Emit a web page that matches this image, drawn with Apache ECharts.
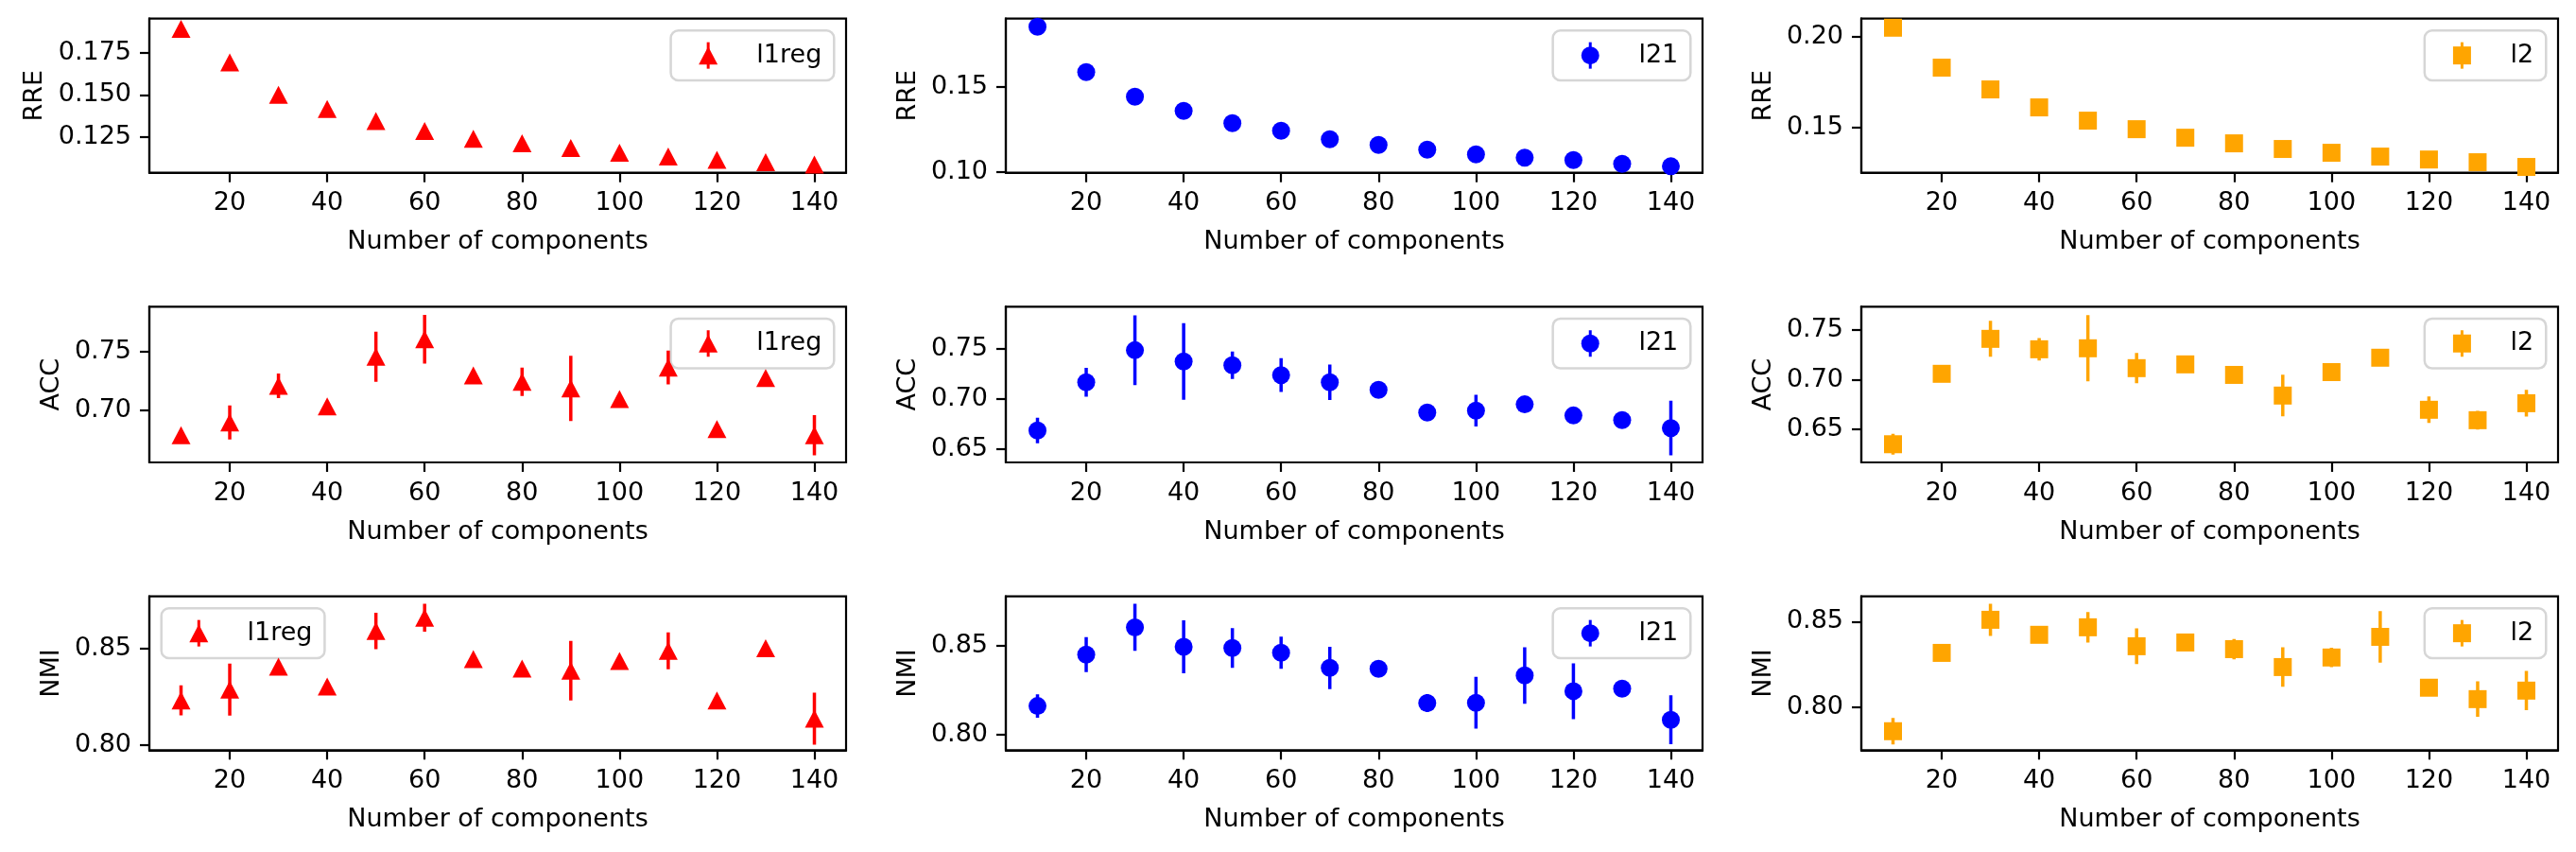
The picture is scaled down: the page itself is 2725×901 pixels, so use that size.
<!DOCTYPE html>
<html>
<head>
<meta charset="utf-8">
<script src="https://cdn.jsdelivr.net/npm/echarts@6/dist/echarts.min.js"></script>
<style>
html, body { margin: 0; padding: 0; background: #ffffff; }
#chart { width: 2725px; height: 901px; }
</style>
</head>
<body>
<div id="chart"></div>
<script>
// ---------------- data ----------------
const components = [10, 20, 30, 40, 50, 60, 70, 80, 90, 100, 110, 120, 130, 140];
const xTicks = [20, 40, 60, 80, 100, 120, 140];

const rreL1reg    = [0.1890, 0.1692, 0.1500, 0.1416, 0.1345, 0.1287, 0.1240, 0.1213, 0.1185, 0.1157, 0.1135, 0.1116, 0.1101, 0.1088];
const rreL1regErr = [0.0008, 0.0008, 0.0008, 0.0008, 0.0008, 0.0008, 0.0008, 0.0008, 0.0008, 0.0008, 0.0008, 0.0008, 0.0008, 0.0008];
const rreL21      = [0.1852, 0.1586, 0.1441, 0.1358, 0.1286, 0.1241, 0.1191, 0.1158, 0.1130, 0.1102, 0.1083, 0.1069, 0.1047, 0.1032];
const rreL21Err   = [0.0008, 0.0008, 0.0008, 0.0008, 0.0008, 0.0008, 0.0008, 0.0008, 0.0008, 0.0008, 0.0008, 0.0008, 0.0008, 0.0008];
const rreL2       = [0.2051, 0.1831, 0.1711, 0.1612, 0.1539, 0.1492, 0.1445, 0.1414, 0.1383, 0.1362, 0.1341, 0.1325, 0.1310, 0.1284];
const rreL2Err    = [0.0008, 0.0008, 0.0008, 0.0008, 0.0008, 0.0008, 0.0008, 0.0008, 0.0008, 0.0008, 0.0008, 0.0008, 0.0008, 0.0008];

const accL1reg    = [0.6790, 0.6898, 0.7209, 0.7035, 0.7455, 0.7604, 0.7297, 0.7243, 0.7187, 0.7096, 0.7364, 0.6842, 0.7275, 0.6790];
const accL1regErr = [0.0030, 0.0144, 0.0104, 0.0030, 0.0213, 0.0207, 0.0030, 0.0120, 0.0277, 0.0030, 0.0144, 0.0030, 0.0040, 0.0170];
const accL21      = [0.6683, 0.7166, 0.7487, 0.7374, 0.7336, 0.7238, 0.7166, 0.7090, 0.6863, 0.6882, 0.6945, 0.6834, 0.6787, 0.6708];
const accL21Err   = [0.0128, 0.0144, 0.0350, 0.0383, 0.0137, 0.0169, 0.0178, 0.0030, 0.0030, 0.0159, 0.0030, 0.0030, 0.0080, 0.0274];
const accL2       = [0.6350, 0.7059, 0.7411, 0.7306, 0.7316, 0.7116, 0.7154, 0.7048, 0.6840, 0.7076, 0.7221, 0.6697, 0.6592, 0.6763];
const accL2Err    = [0.0105, 0.0030, 0.0181, 0.0114, 0.0333, 0.0152, 0.0030, 0.0030, 0.0210, 0.0030, 0.0030, 0.0133, 0.0095, 0.0135];

const nmiL1reg    = [0.8231, 0.8287, 0.8407, 0.8303, 0.8592, 0.8661, 0.8446, 0.8397, 0.8385, 0.8436, 0.8489, 0.8230, 0.8502, 0.8136];
const nmiL1regErr = [0.0078, 0.0135, 0.0020, 0.0020, 0.0095, 0.0073, 0.0020, 0.0020, 0.0155, 0.0020, 0.0096, 0.0020, 0.0020, 0.0135];
const nmiL21      = [0.8162, 0.8449, 0.8602, 0.8493, 0.8486, 0.8460, 0.8375, 0.8370, 0.8178, 0.8180, 0.8333, 0.8245, 0.8259, 0.8085];
const nmiL21Err   = [0.0065, 0.0098, 0.0132, 0.0148, 0.0111, 0.0090, 0.0118, 0.0020, 0.0050, 0.0145, 0.0158, 0.0156, 0.0020, 0.0137];
const nmiL2       = [0.7858, 0.8317, 0.8511, 0.8423, 0.8467, 0.8356, 0.8378, 0.8339, 0.8234, 0.8290, 0.8411, 0.8113, 0.8046, 0.8096];
const nmiL2Err    = [0.0077, 0.0020, 0.0094, 0.0020, 0.0089, 0.0105, 0.0020, 0.0060, 0.0116, 0.0057, 0.0151, 0.0020, 0.0104, 0.0115];

const yTicksRreL1reg = [0.125, 0.150, 0.175];
const yTicksRreL21   = [0.10, 0.15];
const yTicksRreL2    = [0.15, 0.20];
const yTicksAccL1reg = [0.70, 0.75];
const yTicksAccL21   = [0.65, 0.70, 0.75];
const yTicksAccL2    = [0.65, 0.70, 0.75];
const yTicksNmi      = [0.80, 0.85];

// ---------------- layout / style ----------------
const FONT = 'DejaVu Sans';
const FS = 27;
const colLeft = [158, 1064, 1969];
const colWidth = 737;
const rowTop = [19.7, 324.3, 630.7];
const rowHeight = [163, 164.7, 162.6];

const methodStyle = {
  l1reg: { color: '#ff0000', symbol: 'triangle', size: [20, 19] },
  l21:   { color: '#0000ff', symbol: 'circle', size: 19 },
  l2:    { color: '#ffa500', symbol: 'rect', size: 19 }
};

const panels = [
  { row: 0, col: 0, metric: 'RRE', method: 'l1reg', values: rreL1reg, errors: rreL1regErr, yMin: 0.1039, yMax: 0.1951, yTicks: yTicksRreL1reg, dec: 3, nameGap: 108, legend: 'right' },
  { row: 0, col: 1, metric: 'RRE', method: 'l21',   values: rreL21,   errors: rreL21Err,   yMin: 0.0994, yMax: 0.1900, yTicks: yTicksRreL21,   dec: 2, nameGap: 90, legend: 'right' },
  { row: 0, col: 2, metric: 'RRE', method: 'l2',    values: rreL2,    errors: rreL2Err,    yMin: 0.1252, yMax: 0.2101, yTicks: yTicksRreL2,    dec: 2, nameGap: 90, legend: 'right' },
  { row: 1, col: 0, metric: 'ACC', method: 'l1reg', values: accL1reg, errors: accL1regErr, yMin: 0.6559, yMax: 0.7880, yTicks: yTicksAccL1reg, dec: 2, nameGap: 90, legend: 'right' },
  { row: 1, col: 1, metric: 'ACC', method: 'l21',   values: accL21,   errors: accL21Err,   yMin: 0.6364, yMax: 0.7923, yTicks: yTicksAccL21,   dec: 2, nameGap: 90, legend: 'right' },
  { row: 1, col: 2, metric: 'ACC', method: 'l2',    values: accL2,    errors: accL2Err,    yMin: 0.6167, yMax: 0.7735, yTicks: yTicksAccL2,    dec: 2, nameGap: 90, legend: 'right' },
  { row: 2, col: 0, metric: 'NMI', method: 'l1reg', values: nmiL1reg, errors: nmiL1regErr, yMin: 0.7972, yMax: 0.8772, yTicks: yTicksNmi,      dec: 2, nameGap: 90, legend: 'left' },
  { row: 2, col: 1, metric: 'NMI', method: 'l21',   values: nmiL21,   errors: nmiL21Err,   yMin: 0.7915, yMax: 0.8775, yTicks: yTicksNmi,      dec: 2, nameGap: 90, legend: 'right' },
  { row: 2, col: 2, metric: 'NMI', method: 'l2',    values: nmiL2,    errors: nmiL2Err,    yMin: 0.7747, yMax: 0.8648, yTicks: yTicksNmi,      dec: 2, nameGap: 90, legend: 'right' }
];

// text measurement for legend box width
const measureCtx = document.createElement('canvas').getContext('2d');
measureCtx.font = FS + 'px "' + FONT + '"';
const textWidth = (s) => measureCtx.measureText(s).width;

function legendMarker(method, cx, cy, color) {
  const els = [
    { type: 'rect', shape: { x: cx - 1.5, y: cy - 14, width: 3, height: 28 }, style: { fill: color } }
  ];
  if (method === 'l1reg') {
    els.push({ type: 'polygon', shape: { points: [[cx, cy - 9.5], [cx + 10, cy + 9.5], [cx - 10, cy + 9.5]] }, style: { fill: color } });
  } else if (method === 'l21') {
    els.push({ type: 'circle', shape: { cx: cx, cy: cy, r: 9.5 }, style: { fill: color } });
  } else {
    els.push({ type: 'rect', shape: { x: cx - 9.5, y: cy - 9.5, width: 19, height: 19 }, style: { fill: color } });
  }
  return els;
}

const grids = [], xAxes = [], yAxes = [], series = [], legendGraphics = [];
const LEG_PAD = 11, HANDLE_LEN = 55.6, HANDLE_TEXT_PAD = 22.2, LEG_H = 52.7, LEG_MARGIN = 12.7;

panels.forEach((p, i) => {
  const st = methodStyle[p.method];
  const left = colLeft[p.col];
  const top = rowTop[p.row];
  grids.push({
    left: left, top: top, width: colWidth, height: rowHeight[p.row],
    show: true, borderColor: '#000000', borderWidth: 2.2, backgroundColor: '#ffffff',
    containLabel: false, outerBoundsMode: 'none'
  });
  xAxes.push({
    type: 'value', gridIndex: i, min: 3.5, max: 146.5,
    axisLine: { show: true, onZero: false, lineStyle: { color: '#000000', width: 2.2 } },
    axisTick: { show: true, inside: false, length: 10, lineStyle: { color: '#000000', width: 2.2 }, customValues: xTicks },
    axisLabel: { show: true, customValues: xTicks, fontSize: FS, fontFamily: FONT, color: '#000000', margin: 19 },
    splitLine: { show: false },
    name: 'Number of components', nameLocation: 'middle', nameGap: 60, nameMoveOverlap: false,
    nameTextStyle: { fontSize: FS, fontFamily: FONT, color: '#000000' }
  });
  yAxes.push({
    type: 'value', gridIndex: i, min: p.yMin, max: p.yMax,
    axisLine: { show: true, onZero: false, lineStyle: { color: '#000000', width: 2.2 } },
    axisTick: { show: true, inside: false, length: 10, lineStyle: { color: '#000000', width: 2.2 }, customValues: p.yTicks },
    axisLabel: { show: true, customValues: p.yTicks, fontSize: FS, fontFamily: FONT, color: '#000000', margin: 19,
                 formatter: (v) => Number(v).toFixed(p.dec) },
    splitLine: { show: false },
    name: p.metric, nameLocation: 'middle', nameGap: p.nameGap, nameMoveOverlap: false,
    nameTextStyle: { fontSize: FS, fontFamily: FONT, color: '#000000' }
  });
  series.push({
    type: 'custom', name: p.method + ' error', xAxisIndex: i, yAxisIndex: i, clip: true, silent: true, z: 3,
    data: components.map((x, k) => [x, p.values[k], p.errors[k]]),
    renderItem: (params, api) => {
      const x = api.value(0), y = api.value(1), e = api.value(2);
      const a = api.coord([x, y + e]);
      const b = api.coord([x, y - e]);
      return { type: 'line', shape: { x1: a[0], y1: a[1], x2: b[0], y2: b[1] },
               style: { stroke: st.color, lineWidth: 3.5 } };
    }
  });
  series.push({
    type: 'scatter', name: p.method, xAxisIndex: i, yAxisIndex: i, clip: true, silent: true, z: 4,
    symbol: st.symbol, symbolSize: st.size,
    itemStyle: { color: st.color, opacity: 1 },
    data: components.map((x, k) => [x, p.values[k]])
  });

  // legend box (matplotlib-style: handle with error bar, then label)
  const tw = textWidth(p.method);
  const boxW = LEG_PAD + HANDLE_LEN + HANDLE_TEXT_PAD + 2 + tw + LEG_PAD + 2;
  const boxX = p.legend === 'right' ? (left + colWidth - LEG_MARGIN - boxW) : (left + LEG_MARGIN);
  const boxY = top + 12.6;
  const cx = LEG_PAD + HANDLE_LEN / 2 + 0.8;
  const cy = LEG_H / 2;
  legendGraphics.push({
    type: 'group', x: boxX, y: boxY, z: 100, silent: true,
    children: [
      { type: 'rect', shape: { x: 0, y: 0, width: boxW, height: LEG_H, r: 8 },
        style: { fill: 'rgba(255,255,255,0.8)', stroke: '#d6d6d6', lineWidth: 2.5 } }
    ].concat(legendMarker(p.method, cx, cy, st.color)).concat([
      { type: 'text', x: LEG_PAD + HANDLE_LEN + HANDLE_TEXT_PAD + 2, y: cy,
        style: { text: p.method, fontSize: FS, fontFamily: FONT, fill: '#000000', align: 'left', verticalAlign: 'middle' } }
    ])
  });
});

const chart = echarts.init(document.getElementById('chart'), null, { renderer: 'canvas', width: 2725, height: 901 });
chart.setOption({
  backgroundColor: '#ffffff',
  animation: false,
  textStyle: { fontFamily: FONT },
  grid: grids,
  xAxis: xAxes,
  yAxis: yAxes,
  series: series,
  graphic: { elements: legendGraphics }
});
</script>
</body>
</html>
